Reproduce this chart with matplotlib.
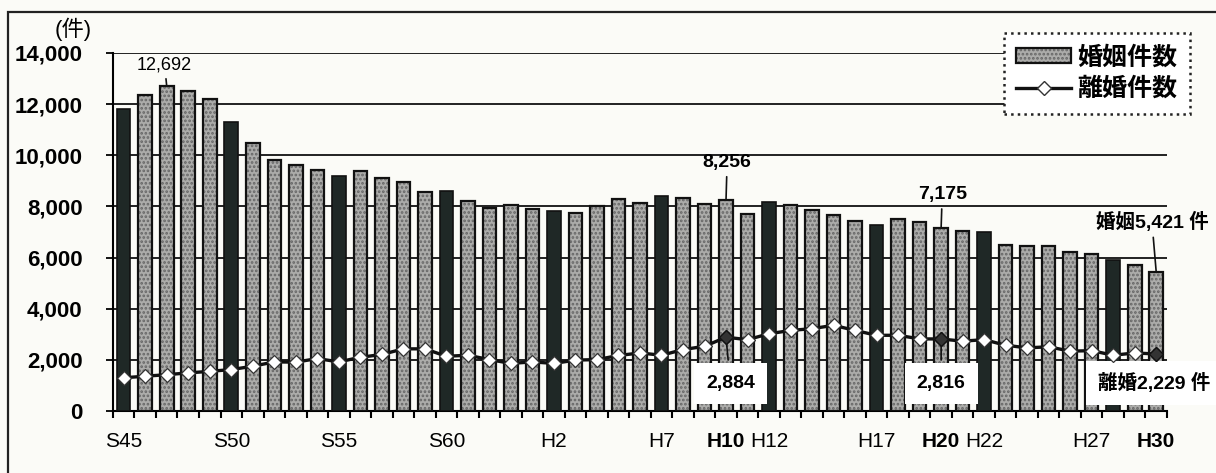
import matplotlib

matplotlib.use("Agg")

import matplotlib.pyplot as plt
import numpy as np
from matplotlib.legend_handler import HandlerTuple
from matplotlib.lines import Line2D
from matplotlib.patches import Patch, Rectangle

plt.rcParams["font.family"] = ["Liberation Sans", "Noto Sans CJK JP"]
plt.rcParams["hatch.linewidth"] = 1.3

# 年次 (S45〜S63, H1〜H30)
years = [f"S{y}" for y in range(45, 64)] + [f"H{y}" for y in range(1, 31)]

# 婚姻件数
marriages = [
    11800, 12350, 12692, 12520, 12200, 11300, 10480, 9800, 9610, 9420,
    9190, 9370, 9130, 8950, 8560, 8620, 8200, 7950, 8040, 7880,
    7810, 7730, 8000, 8280, 8120, 8410, 8330, 8090, 8256, 7700,
    8170, 8070, 7870, 7650, 7420, 7290, 7510, 7380, 7175, 7020,
    6990, 6480, 6440, 6460, 6210, 6150, 5920, 5720, 5421,
]

# 離婚件数
divorces = [
    1300, 1360, 1420, 1490, 1550, 1620, 1750, 1920, 1910, 2050,
    1920, 2100, 2210, 2430, 2430, 2140, 2180, 2010, 1860, 1920,
    1860, 1990, 2010, 2170, 2270, 2180, 2400, 2530, 2884, 2790,
    3020, 3150, 3220, 3350, 3150, 2960, 2960, 2820, 2816, 2730,
    2790, 2570, 2470, 2510, 2340, 2360, 2180, 2270, 2229,
]

dark_years = ["S45", "S50", "S55", "S60", "H2", "H7", "H12", "H17", "H22", "H28"]
shown_labels = ["S45", "S50", "S55", "S60", "H2", "H7", "H10", "H12",
                "H17", "H20", "H22", "H27", "H30"]
bold_labels = ["H10", "H20", "H30"]
y_ticks = [0, 2000, 4000, 6000, 8000, 10000, 12000, 14000]

x = np.arange(len(years))
is_dark = np.array([y in dark_years for y in years])
m = np.array(marriages, dtype=float)

fig = plt.figure(figsize=(12.16, 4.73), dpi=100, facecolor="#fbfbf7")
ax = fig.add_axes([0.0929, 0.1311, 0.8668, 0.7569])
ax.set_facecolor("none")

# 枠
fig.patches.append(Rectangle((0.0066, -0.1), 1.2, 1.0746, transform=fig.transFigure,
                             fill=False, edgecolor="#222222", lw=1.6, clip_on=False))

# グリッド
for v in y_ticks[1:]:
    ax.axhline(v, color="#111111", lw=1.3, zorder=0)

w = 0.63
# 明るい棒 (点描)
ax.bar(x[~is_dark], m[~is_dark], width=w, color="#acacaa", edgecolor="#666666",
       hatch="....", linewidth=0, zorder=2)
ax.bar(x[~is_dark], m[~is_dark], width=w, fill=False, edgecolor="#111111",
       linewidth=1.6, zorder=3)
# 暗い棒
ax.bar(x[is_dark], m[is_dark], width=w, color="#1f2826", edgecolor="#111111",
       linewidth=1.2, zorder=3)

# 離婚件数の折れ線
ax.plot(x, divorces, color="#111111", lw=2.4, marker="D", ms=7.5,
        mfc="white", mec="#333333", mew=0.9, zorder=5)
hl = [years.index(y) for y in bold_labels]
ax.plot(x[hl], np.array(divorces)[hl], ls="none", marker="D", ms=7.5,
        mfc="#333333", mec="#111111", zorder=6)

ax.set_xlim(-0.5, len(years) - 0.5)
ax.set_ylim(0, 14000)

for s in ["top", "right"]:
    ax.spines[s].set_visible(False)
ax.spines["left"].set_linewidth(1.5)
ax.spines["bottom"].set_linewidth(1.5)
ax.spines["left"].set_zorder(4)

ax.set_yticks(y_ticks)
ax.set_yticklabels([f"{v:,}" for v in y_ticks], fontsize=16, fontweight="bold")
ax.tick_params(axis="y", direction="out", length=5, width=1.3, pad=17)

ax.set_xticks(np.arange(len(years) + 1) - 0.5, minor=True)
ax.tick_params(axis="x", which="minor", direction="out", length=5, width=1.5)
pos = [years.index(lbl) for lbl in shown_labels]
ax.set_xticks(pos)
ax.set_xticklabels(shown_labels)
ax.tick_params(axis="x", which="major", length=0, pad=15)
for t in ax.get_xticklabels():
    if t.get_text() in bold_labels:
        t.set_fontsize(15)
        t.set_fontweight("bold")
    else:
        t.set_fontsize(15)
        t.set_family(["Liberation Sans Narrow", "Liberation Sans"])

fig.text(0.060, 0.938, "(件)", fontsize=16, ha="center", va="center")

# ラベル
lead = dict(arrowstyle="-", color="#111111", lw=1.2, shrinkA=2, shrinkB=0)
i = years.index("S47")
ax.annotate(f"{marriages[i]:,}", xy=(i, marriages[i]), xytext=(1.9, 13540),
            ha="center", va="center", fontsize=13, arrowprops=lead, zorder=7)
i = years.index("H10")
ax.annotate(f"{marriages[i]:,}", xy=(i, marriages[i]), xytext=(28.05, 9710),
            ha="center", va="center", fontsize=14, fontweight="bold",
            arrowprops=lead, zorder=7)
i = years.index("H20")
ax.annotate(f"{marriages[i]:,}", xy=(i, marriages[i]), xytext=(38.05, 8450),
            ha="center", va="center", fontsize=14, fontweight="bold",
            arrowprops=lead, zorder=7)
i = years.index("H30")
ax.annotate(f"婚姻{marriages[i]:,} 件", xy=(i, marriages[i]), xytext=(47.8, 7400),
            ha="center", va="center", fontsize=14, fontweight="bold",
            arrowprops=lead, annotation_clip=False, zorder=7)

box = dict(boxstyle="square,pad=0.62", facecolor="white", edgecolor="none")
for lbl, tx, txt in [("H10", 28.2, "{:,}"), ("H20", 38.0, "{:,}"), ("H30", 47.9, "離婚{:,} 件")]:
    i = years.index(lbl)
    ax.annotate(txt.format(divorces[i]), xy=(i, divorces[i]), xytext=(tx, 1080),
                ha="center", va="center", fontsize=14, fontweight="bold",
                bbox=box, arrowprops=lead, annotation_clip=False, zorder=4.5)

# 凡例
h_bar = (Patch(facecolor="#acacaa", edgecolor="#666666", hatch="....", lw=0),
         Patch(fill=False, edgecolor="#111111", lw=1.6))
h_line = Line2D([], [], color="#111111", lw=2.4, marker="D", ms=7.5,
                mfc="white", mec="#333333")
leg = ax.legend([h_bar, h_line], ["婚姻件数", "離婚件数"],
                handler_map={tuple: HandlerTuple(ndivide=1)},
                loc="upper right", bbox_to_anchor=(0.9786, 0.930),
                bbox_transform=fig.transFigure, borderaxespad=0,
                prop={"size": 18, "weight": "bold"}, handlelength=2.2,
                handleheight=0.55, handletextpad=0.25, labelspacing=0.3,
                borderpad=0.5, fancybox=False, framealpha=1)
frame = leg.get_frame()
frame.set_edgecolor("#222222")
frame.set_linestyle(":")
frame.set_linewidth(1.8)
leg.set_zorder(8)

fig.savefig("out.png", dpi=100, facecolor=fig.get_facecolor())
